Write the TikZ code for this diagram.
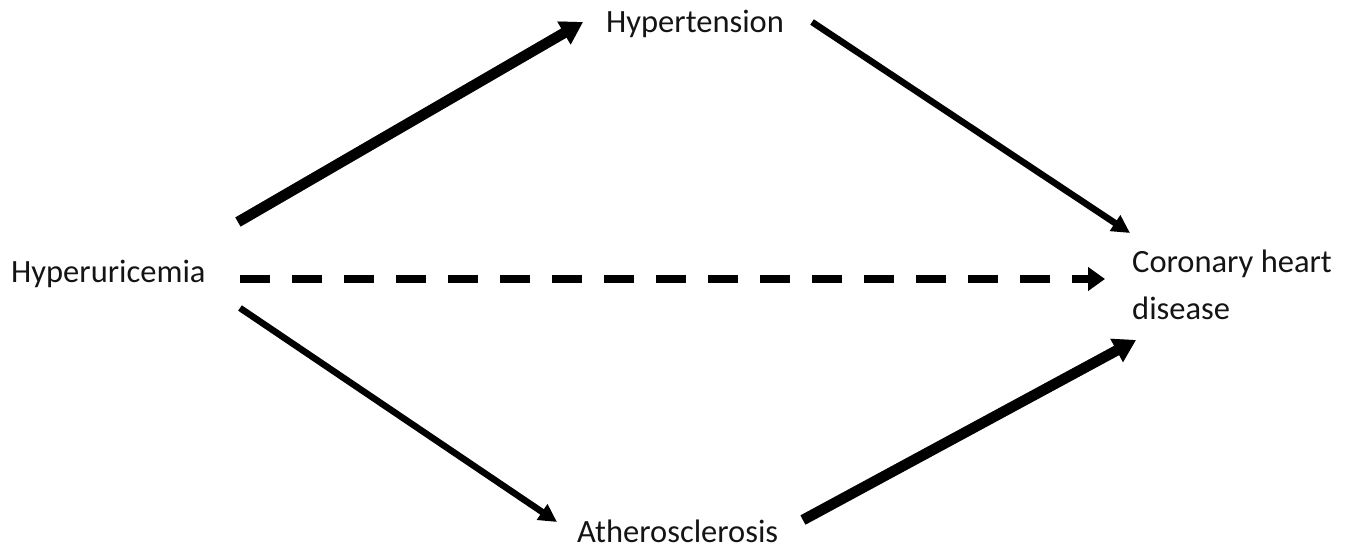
\documentclass[tikz,border=0pt]{standalone}
\usepackage{fontspec}
\setmainfont{Carlito}
\usetikzlibrary{arrows.meta}
\begin{document}
\begin{tikzpicture}[x=1pt,y=1pt,
  lbl/.style={anchor=base west,inner sep=0pt,font=\fontsize{32.5}{47}\selectfont,text=black!92},
  thick arrow/.style={line width=10.5pt,-{Triangle[length=22pt,width=25pt]}},
  thin arrow/.style={line width=6.5pt,-{Triangle[length=18pt,width=18pt]}},
  dash arrow/.style={line width=8pt,dash pattern=on 30pt off 22pt,-{Triangle[length=17pt,width=23pt]}},
  shadow/.style={draw=black!45,xshift=1.5pt,yshift=-1.5pt}
]
\useasboundingbox (0,0) rectangle (1351,549);
\node[lbl] (hu) at (11,266) {Hyperuricemia};
\node[lbl] (ht) at (606,516) {Hypertension};
\node[lbl] (at) at (577,7) {Atherosclerosis};
\node[lbl,align=left] (chd) at (1132,229) {Coronary heart\\disease};

\coordinate (a1s) at (238,327); \coordinate (a1e) at (583,527);
\coordinate (a2s) at (812,527); \coordinate (a2e) at (1130,316);
\coordinate (a3s) at (240,270); \coordinate (a3e) at (1105,270);
\coordinate (a4s) at (240,241); \coordinate (a4e) at (557,27);
\coordinate (a5s) at (803,29);  \coordinate (a5e) at (1136,209);

\draw[thick arrow,shadow] (a1s) -- (a1e);
\draw[thick arrow,shadow] (a5s) -- (a5e);
\draw[thick arrow] (a1s) -- (a1e);
\draw[thin arrow] (a2s) -- (a2e);
\draw[dash arrow] (a3s) -- (a3e);
\draw[thin arrow] (a4s) -- (a4e);
\draw[thick arrow] (a5s) -- (a5e);
\end{tikzpicture}
\end{document}
